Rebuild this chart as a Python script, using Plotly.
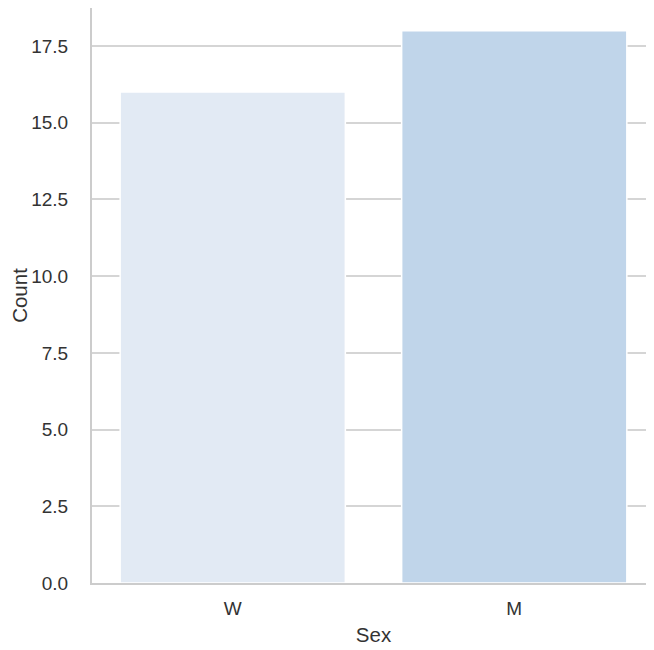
import plotly.graph_objects as go

categories = ["W", "M"]
counts = [16, 18]
colors = ["#e2eaf4", "#c0d5ea"]

fig = go.Figure()
fig.add_trace(go.Bar(
    x=categories, y=counts,
    marker=dict(color=colors, line=dict(color="white", width=1.5)),
    width=0.8,
))

tick_font = dict(family="Liberation Sans, Arial, sans-serif", size=19, color="#333333")
label_font = dict(family="Liberation Sans, Arial, sans-serif", size=20.5, color="#333333")

fig.update_layout(
    width=654, height=650,
    margin=dict(l=84, r=7, t=0, b=75),
    plot_bgcolor="white", paper_bgcolor="white",
    font=tick_font,
    showlegend=False,
    bargap=0.2,
)
fig.update_xaxes(
    range=[-0.5, 1.5],
    showline=True, linecolor="#cccccc", linewidth=2,
    showgrid=False, ticks="", ticklabelstandoff=7,
    title=dict(text="Sex", standoff=10, font=label_font),
    tickfont=tick_font,
)
fig.update_yaxes(
    range=[0, 18.74],
    tickvals=[0, 2.5, 5, 7.5, 10, 12.5, 15, 17.5],
    ticktext=["0.0", "2.5", "5.0", "7.5", "10.0", "12.5", "15.0", "17.5"],
    showline=True, linecolor="#cccccc", linewidth=2,
    showgrid=True, gridcolor="#d5d5d5", gridwidth=1.5,
    zeroline=False, ticks="", ticklabelstandoff=18,
    title=dict(text="Count", standoff=8, font=label_font),
    tickfont=tick_font,
)

fig.write_html("out.html")
